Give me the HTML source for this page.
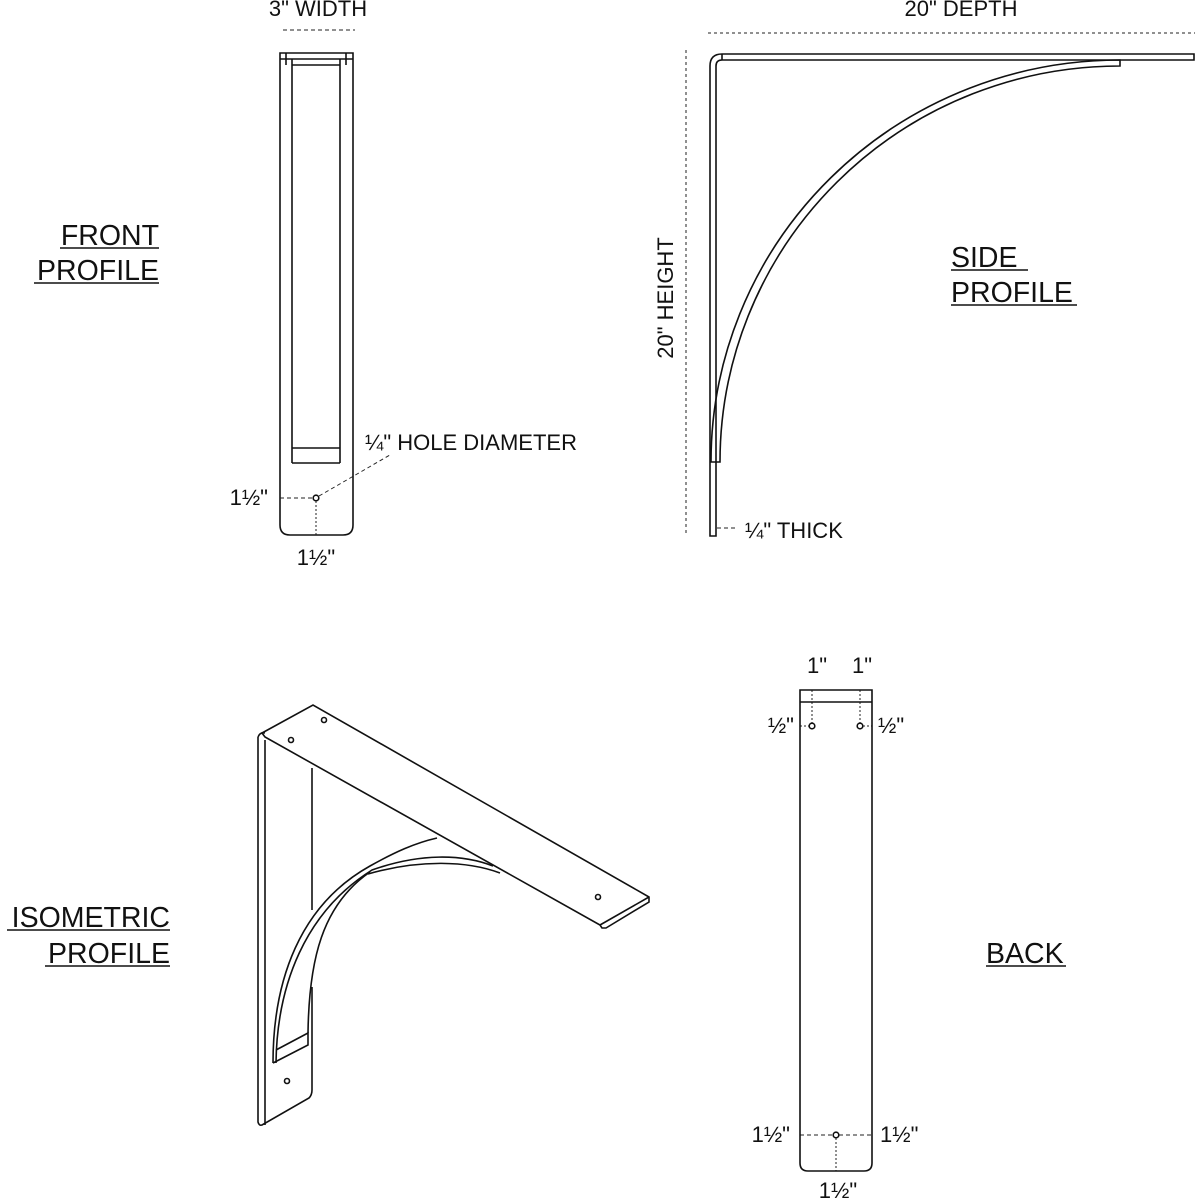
<!DOCTYPE html>
<html><head><meta charset="utf-8"><style>
html,body{margin:0;padding:0;background:#fff;}
svg{display:block;}
text{font-family:"Liberation Sans",Arial,sans-serif;fill:#111;}
</style></head><body>
<svg width="1200" height="1200" viewBox="0 0 1200 1200" xmlns="http://www.w3.org/2000/svg">
<g fill="none" stroke="#111" stroke-width="1.6">
<path d="M280,53 H353 V525 Q353,535 343,535 H290 Q280,535 280,525 Z"/>
<line x1="280" y1="59" x2="353" y2="59"/>
<line x1="292" y1="65" x2="340" y2="65"/>
<line x1="286" y1="53" x2="286" y2="65"/>
<line x1="346" y1="53" x2="346" y2="65"/>
<line x1="292" y1="59" x2="292" y2="463"/>
<line x1="340" y1="59" x2="340" y2="463"/>
<line x1="292" y1="463" x2="340" y2="463"/>
<line x1="292" y1="448" x2="340" y2="448"/>
<circle cx="316" cy="498" r="2.8"/>
</g>
<g fill="none" stroke="#222" stroke-width="1" stroke-dasharray="4,3">
<line x1="283" y1="30" x2="355" y2="30"/>
<line x1="280" y1="498" x2="313" y2="498"/>
<line x1="316" y1="501" x2="316" y2="535" stroke-dasharray="2,2"/>
<line x1="319" y1="496" x2="390" y2="455"/>
<line x1="708" y1="33" x2="1195" y2="33" stroke-dasharray="3,3"/>
<line x1="686" y1="50" x2="686" y2="536" stroke-dasharray="3,3"/>
<line x1="717" y1="528" x2="738" y2="528"/>
<line x1="812" y1="690" x2="812" y2="723" stroke-dasharray="2,2"/>
<line x1="860" y1="690" x2="860" y2="723" stroke-dasharray="2,2"/>
<line x1="800" y1="726" x2="809" y2="726" stroke-dasharray="2,2"/>
<line x1="863" y1="726" x2="872" y2="726" stroke-dasharray="2,2"/>
<line x1="800" y1="1135" x2="833" y2="1135"/>
<line x1="839" y1="1135" x2="872" y2="1135"/>
<line x1="836" y1="1138" x2="836" y2="1171" stroke-dasharray="2,2"/>
</g>
<g fill="none" stroke="#111" stroke-width="1.6">
<path d="M710,536 V66 Q710,54 722,54 H1194 V60 H722 Q716,60 716,66 V536 Z"/>
<line x1="722" y1="54" x2="722" y2="60"/>
<path d="M711,462 A409,402 0 0 1 1120,60 V66 A400,396 0 0 0 720,462 Z"/>
<path d="M800,690 H872 V1163 Q872,1171 864,1171 H808 Q800,1171 800,1163 Z"/>
<line x1="800" y1="702" x2="872" y2="702"/>
<circle cx="812" cy="726" r="2.8"/>
<circle cx="860" cy="726" r="2.8"/>
<circle cx="836" cy="1135" r="2.8"/>
<!-- ISOMETRIC -->
<path d="M262,733 L313,705 L649,897 L649,902 L606,928 L602,928 L600,925 L265,737 Z"/>
<line x1="600" y1="925" x2="649" y2="897"/>
<path d="M258,737 Q260,732 265,733"/>
<path d="M258,737 V1122 Q259,1126 262,1125 L309,1098 Q312,1095 312,1090 V987"/>
<line x1="265" y1="740" x2="265" y2="1125"/>
<line x1="312" y1="768" x2="312" y2="910"/>
<path d="M273,1063 C273,980 300,905 370,866 C395,852 415,843 437,838"/>
<path d="M276,1063 C277,985 305,912 372,870 C420,853 462,854 493,866"/>
<path d="M368,874 C420,859 468,861 500,873"/>
<path d="M308,1033 C309,960 322,905 370,872"/>
<path d="M273,1063 L308,1045 V1033 L276,1050"/>
<circle cx="324" cy="720" r="2.5"/>
<circle cx="291" cy="740" r="2.5"/>
<circle cx="598" cy="897" r="2.5"/>
<circle cx="287" cy="1081" r="2.5"/>
</g>
<g font-size="22">
<text x="318" y="16" text-anchor="middle">3" WIDTH</text>
<text x="961" y="16" text-anchor="middle">20" DEPTH</text>
<text x="365" y="450">¼" HOLE DIAMETER</text>
<text x="268" y="505" text-anchor="end">1½"</text>
<text x="316" y="565" text-anchor="middle">1½"</text>
<text x="745" y="538">¼" THICK</text>
<text transform="translate(673,298) rotate(-90)" text-anchor="middle">20" HEIGHT</text>
<text x="817" y="673" text-anchor="middle">1"</text>
<text x="862" y="673" text-anchor="middle">1"</text>
<text x="794" y="733" text-anchor="end">½"</text>
<text x="878" y="733">½"</text>
<text x="790" y="1142" text-anchor="end">1½"</text>
<text x="880" y="1142">1½"</text>
<text x="838" y="1198" text-anchor="middle">1½"</text>
</g>
<g font-size="28.5">
<text x="159" y="245" text-anchor="end">FRONT</text>
<text x="159" y="280" text-anchor="end">PROFILE</text>
<text x="951" y="267">SIDE</text>
<text x="951" y="302">PROFILE</text>
<text x="170" y="927" text-anchor="end">ISOMETRIC</text>
<text x="170" y="963" text-anchor="end">PROFILE</text>
<text x="986" y="963">BACK</text>
</g>
<g stroke="#111" stroke-width="1.5">
<line x1="60" y1="248" x2="159" y2="248"/>
<line x1="34" y1="283" x2="159" y2="283"/>
<line x1="951" y1="270" x2="1028" y2="270"/>
<line x1="951" y1="305" x2="1077" y2="305"/>
<line x1="7" y1="930" x2="170" y2="930"/>
<line x1="45" y1="966" x2="170" y2="966"/>
<line x1="986" y1="966" x2="1066" y2="966"/>
</g>
</svg>
</body></html>
